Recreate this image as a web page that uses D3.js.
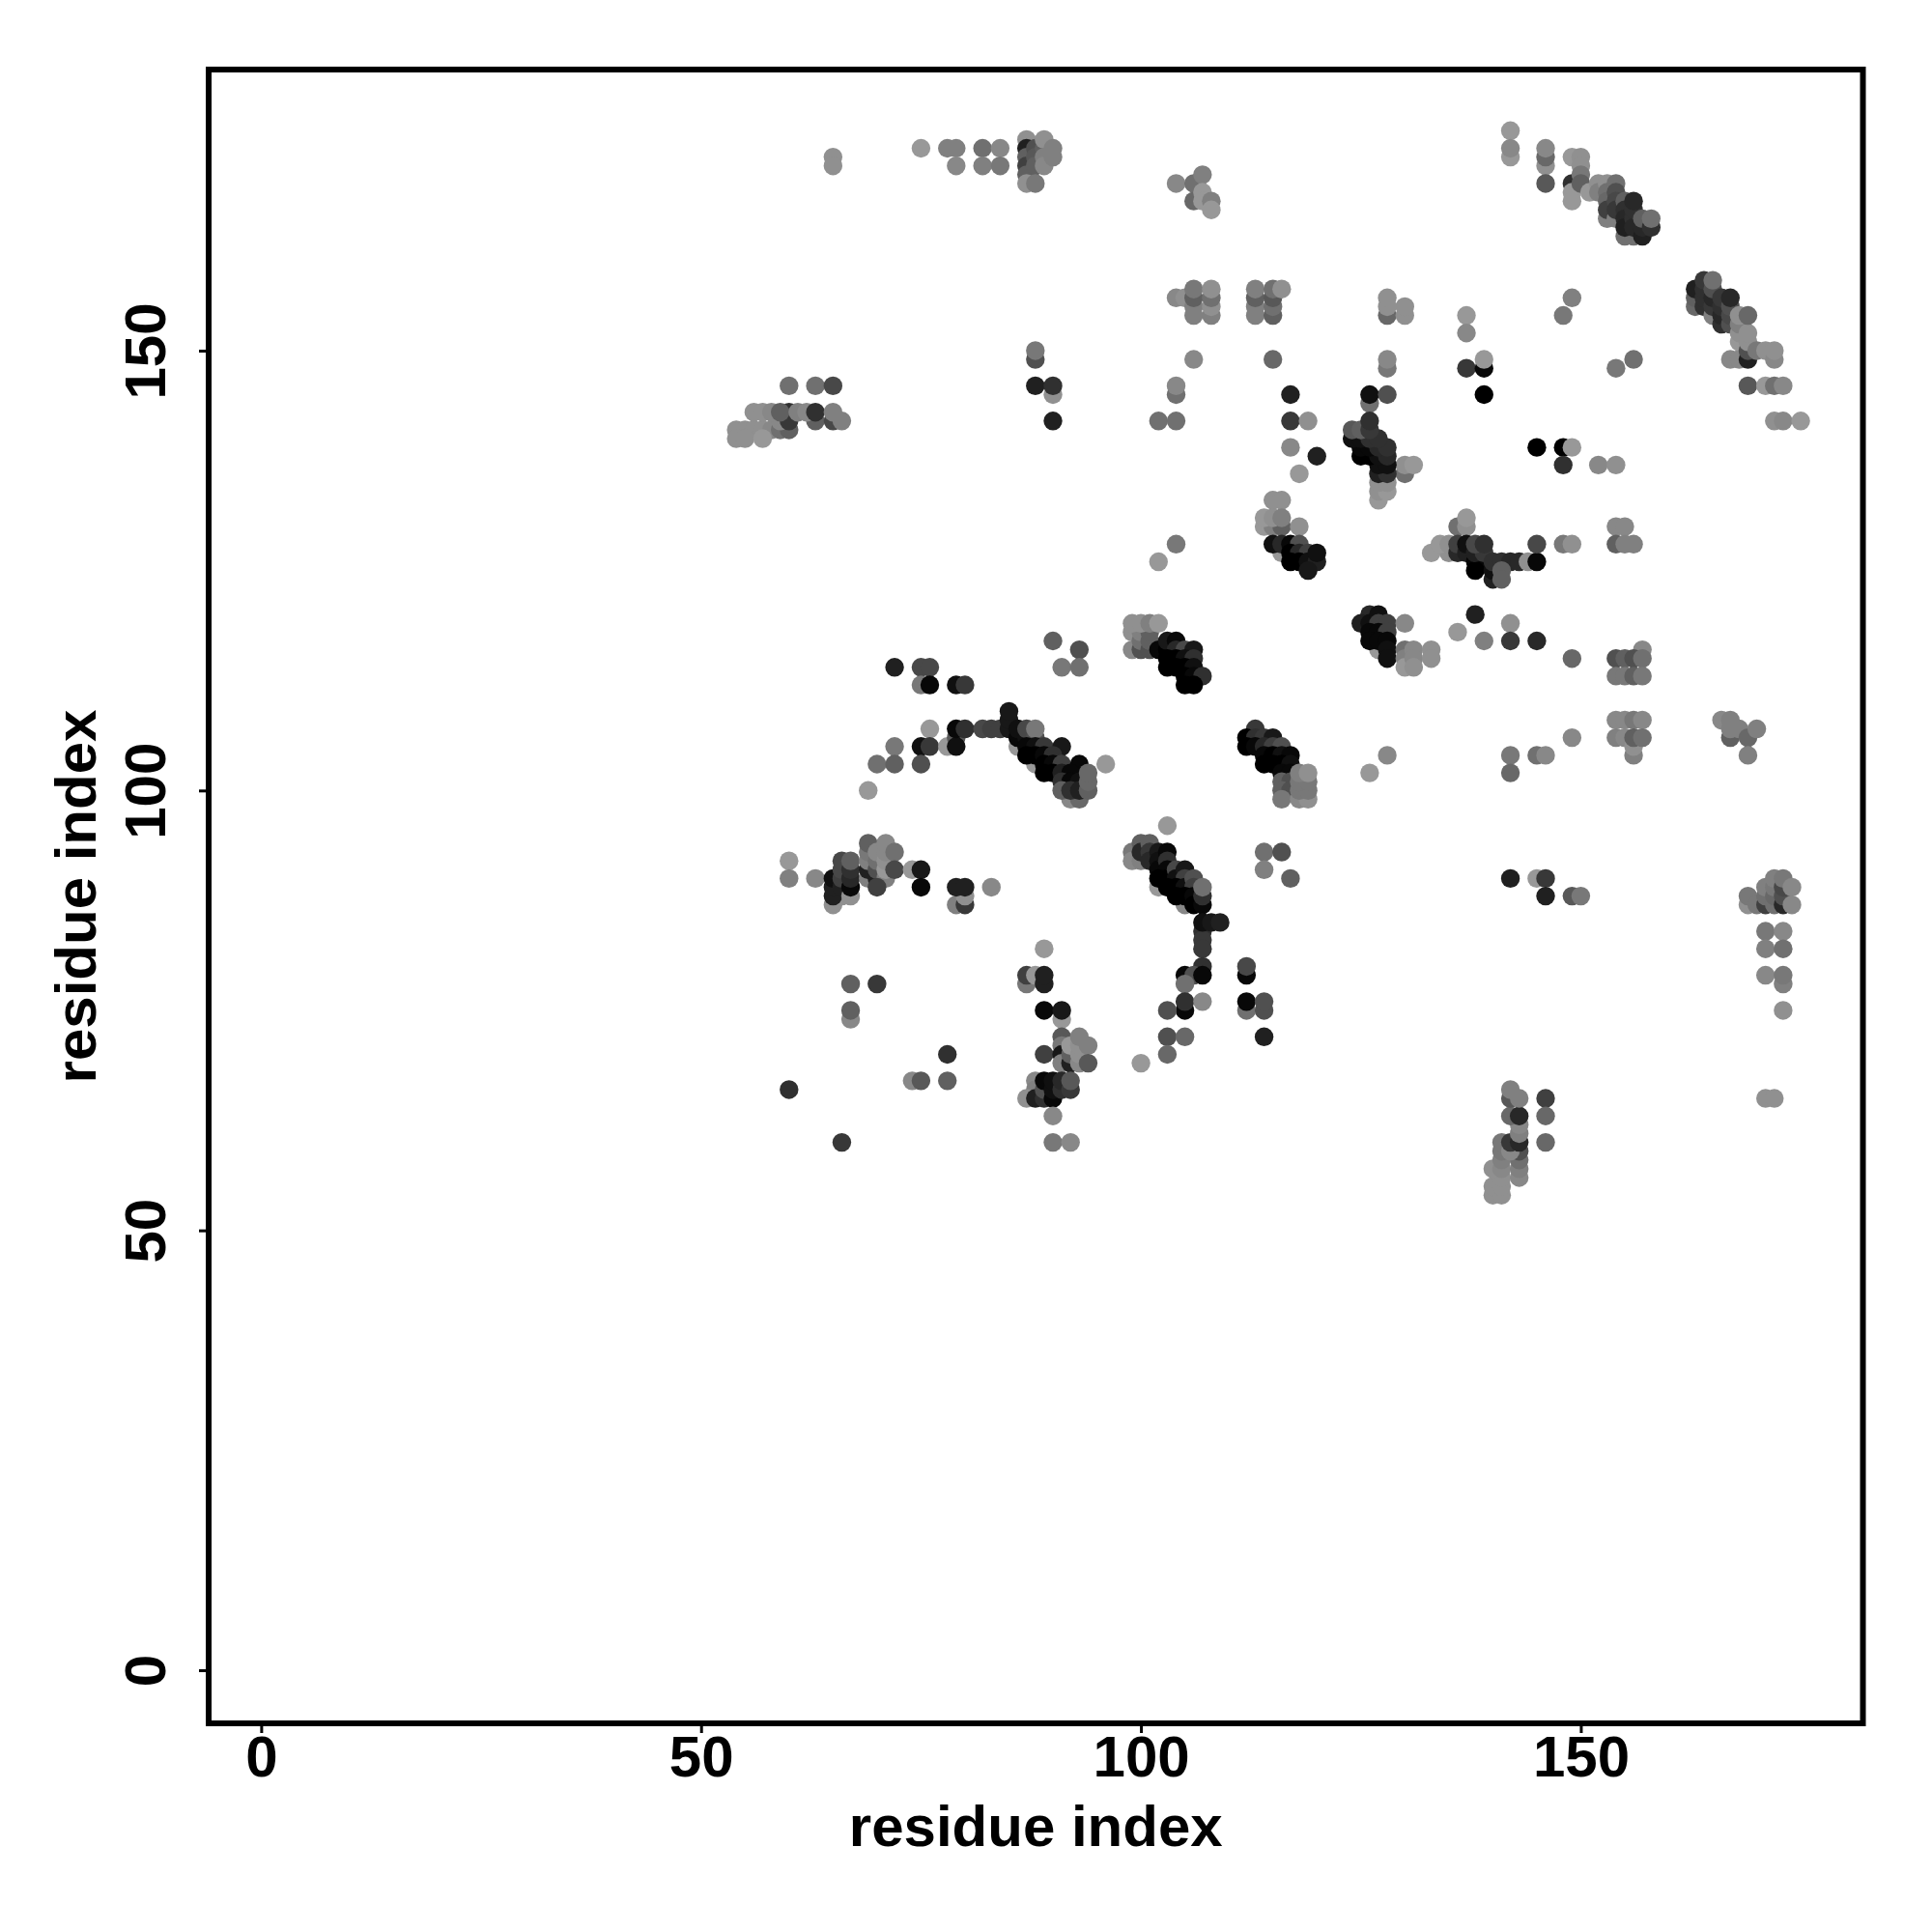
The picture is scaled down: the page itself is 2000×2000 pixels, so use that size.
<!DOCTYPE html>
<html><head><meta charset="utf-8">
<script src="https://cdn.jsdelivr.net/npm/d3@7"></script>
<style>html,body{margin:0;background:#fff}svg{display:block}</style></head>
<body><svg id="c" width="2000" height="2000"></svg>
<script>
// each contact: [residue i, residue j, score 0..19]
const topLeftContacts = [[65,172,1],[65,171,1],[75,173,0],[78,173,3],[79,173,3],[79,171,2],[82,173,5],[82,171,3],[84,173,2],[84,171,4],
[87,174,1],[87,173,15],[87,172,7],[87,171,11],[87,170,7],[87,169,1],[88,173,9],[88,172,8],[88,171,7],[88,169,4],[89,173,7],[89,174,1],[89,172,3],[89,171,2],[90,173,3],[90,172,3]];
const helix54Contacts = [[60,146,5],[63,146,5],[65,146,10],[54,141,1],[55,141,1],[56,141,1],[57,141,1],[58,141,2],[59,141,5],[60,141,7],[54,140,1],[55,140,1],[57,140,0],
[59,142,2],[60,143,13],[60,142,12],[63,142,7],[65,142,10],[56,143,1],[57,143,1],[58,143,2],[59,143,7],[61,143,3],[62,143,2],[63,143,13],[65,143,3],[66,142,3]];
const midTopContacts = [[88,149,9],[88,150,4],[88,146,15],[90,145,1],[90,146,13],[90,142,15],[102,142,5],[104,142,5],[104,145,5],[104,146,2],
[104,169,2],[106,169,5],[107,170,3],[106,167,6],[107,168,0],[107,167,0],[108,167,3],[108,166,0],
[104,156,2],[105,156,1],[106,154,3],[106,155,3],[106,156,7],[106,157,4],[108,154,3],[108,155,1],[108,156,5],[108,157,1],
[113,154,3],[113,155,3],[113,156,7],[113,157,3],[115,154,7],[115,155,5],[115,156,8],[115,157,5],[116,157,1],
[128,154,6],[128,155,1],[128,156,1],[130,154,1],[130,155,1],[137,154,0],[137,152,2],[149,156,3],[148,154,4],
[106,149,2],[115,149,6],[128,148,4],[128,149,2],[137,148,12],[139,148,18],[139,149,0],[139,145,19],[156,149,5],[154,148,4]];
const block117Contacts = [[117,145,15],[117,142,12],[119,142,1],[117,139,2],[120,138,15],[118,136,0],
[126,144,5],[126,145,17],[128,145,9],[127,133,0],[127,134,1],[128,134,0],[127,135,1],[128,135,1],[130,136,5],[127,136,15],[128,136,13],[130,137,1],[131,137,0],
[127,137,17],[128,137,17],[125,138,19],[126,138,19],[127,138,17],[128,138,14],[125,139,18],[126,139,18],[127,139,14],[128,139,13],[124,140,17],[125,140,17],[126,140,13],[127,140,13],[124,141,8],[125,141,7],[126,141,12],[126,142,13]];
const upperRightContacts = [[145,139,19],[148,139,19],[149,139,0],[148,137,13],[152,137,2],[154,137,1]];
const diagTopContacts = [[142,175,0],[142,172,0],[142,173,2],[146,171,1],[146,172,6],[146,173,2],[146,169,8],[149,172,0],[149,169,13],[149,168,0],[149,167,0],
[150,172,1],[150,171,1],[150,170,4],[150,169,7],[151,168,0],[152,169,1],[152,168,3],[153,169,1],[153,168,5],[153,167,6],[153,165,3],[153,166,11],[154,169,5],[154,168,9],[154,167,10],[154,165,3],[154,166,12],
[155,163,5],[156,163,5],[155,167,7],[155,166,13],[155,165,14],[155,164,15],[156,165,13],[156,164,14],[156,166,13],[156,167,14],[157,163,15],[157,164,14],[157,165,7],[158,164,13],[158,165,5]];
const diagRightContacts = [[163,155,6],[163,156,7],[163,157,15],[164,155,13],[164,156,13],[164,157,13],[164,158,12],[165,154,3],[165,155,12],[165,156,14],[165,157,9],[165,158,5],
[166,153,13],[166,154,14],[166,155,13],[166,156,12],[167,153,9],[167,154,10],[167,155,9],[167,156,14],[167,149,2],[168,149,2],[168,151,0],[168,152,1],[168,153,3],[168,154,1],
[169,149,15],[169,150,9],[169,151,1],[169,152,1],[169,154,6],[170,150,4],[171,150,1],[172,149,2],[172,150,1],[169,146,8],[171,146,0],[172,146,5],[173,146,2],[172,142,1],[173,142,2],[175,142,0]];
const block114Contacts = [[104,128,4],[102,126,0],[115,133,1],[116,133,1],[114,130,0],[115,130,3],[116,130,7],[114,131,0],[115,131,1],[116,131,3],[118,130,1],
[116,127,0],[115,128,17],[116,128,14],[117,128,18],[118,128,9],[117,127,19],[118,127,14],[119,127,11],[117,126,19],[118,126,19],[119,126,17],[120,126,15],[119,125,16],[120,127,17]];
const block136Contacts = [[136,130,5],[137,130,1],[137,131,0],[133,127,0],[135,127,1],[134,128,0],[135,128,1],[136,127,14],[136,128,11],[137,127,15],[137,128,17],[138,126,18],[139,126,18],[138,125,19],[140,124,15],[140,125,17],[138,127,15],[139,127,12],[138,128,10],[139,128,13],
[140,126,13],[141,126,13],[142,126,14],[143,126,14],[141,125,7],[141,124,7],[144,126,1],[145,126,18],[145,128,10],[148,128,4],[149,128,1],[154,130,2],[155,130,2],[154,128,7],[155,128,3],[156,128,3]];
const block125Contacts = [[127,116,0],[126,120,14],[125,119,15],[126,119,17],[127,120,17],[127,119,11],[128,119,11],[126,118,18],[127,118,18],[128,118,11],[126,117,18],[127,117,18],[128,117,18],[128,116,17],[128,115,17],
[130,119,2],[130,116,5],[130,115,3],[130,114,0],[131,116,2],[131,115,2],[131,114,1],[133,116,1],[133,115,1],[138,120,15],[142,119,1],[136,118,0],[139,117,3],[142,117,12],[145,117,14],[149,115,6]];
const block99Contacts = [[99,116,2],[99,118,1],[100,116,9],[100,117,5],[100,118,3],[101,116,9],[101,117,7],[101,118,7],[99,119,1],[100,119,1],[101,119,3],[102,119,0],
[102,116,18],[103,116,19],[103,117,16],[104,117,18],[104,116,14],[105,116,10],[106,116,16],[103,115,19],[104,115,19],[105,115,17],[106,115,13],[103,114,19],[104,114,19],[105,114,19],[106,114,17],[105,113,19],[106,113,18],[107,113,13],[105,112,19],[106,112,19]];
const block112Contacts = [[113,107,12],[112,106,19],[113,106,13],[114,106,12],[115,106,16],[112,105,19],[113,105,18],[114,105,14],[115,105,11],[116,105,9],[114,104,18],[115,104,19],[116,104,17],[117,104,18],[114,103,19],[115,103,19],[116,103,19],[117,103,17],[116,102,18],[117,102,18],
[116,101,7],[117,101,9],[116,100,7],[117,100,9],[116,99,4],[118,99,2],[119,99,1],[118,100,4],[119,100,4],[118,101,4],[119,101,4],[118,102,3],[119,102,1],[128,104,2],[126,102,0]];
const column154Contacts = [[142,104,4],[142,102,6],[145,104,5],[146,104,2],[149,106,2],[157,116,2],[154,115,9],[155,115,7],[156,115,9],[157,115,5],[154,113,4],[155,113,4],[156,113,7],[157,113,4],
[154,108,2],[155,108,2],[156,108,4],[157,108,2],[154,106,3],[155,106,2],[156,104,3],[156,105,1],[156,106,7],[157,106,5],
[166,108,2],[167,108,3],[167,106,7],[167,107,3],[168,107,3],[169,106,6],[170,107,3],[169,104,3]];
const arc72Contacts = [[72,114,15],[75,114,10],[76,114,10],[75,112,4],[76,112,18],[79,112,17],[80,112,12],[76,107,0],[72,105,4],[75,105,17],[76,105,12],[78,105,0],[79,106,8],[79,105,17],[79,107,18],[80,107,13],
[82,107,10],[83,107,11],[84,107,11],[85,107,16],[85,108,16],[85,109,16],[70,103,5],[72,103,7],[75,103,9],[69,100,0],[90,117,7],[93,116,9],[91,114,4],[93,114,5]];
const arc86Contacts = [[86,105,0],[88,103,0],[86,106,18],[86,107,17],[87,106,17],[87,107,10],[88,106,9],[88,107,4],[87,105,18],[88,105,17],[89,105,12],[91,105,16],[87,104,19],[88,104,19],[89,104,18],[90,104,13],[89,103,19],[90,103,18],[91,103,11],[93,103,18],[96,103,0],
[89,102,19],[90,102,19],[91,102,15],[92,102,18],[91,101,13],[92,101,18],[93,101,17],[92,99,2],[93,99,6],[91,100,7],[92,100,13],[93,100,15],[94,100,7],[94,101,6],[94,102,6]];
const block65Contacts = [[60,92,0],[60,90,3],[63,90,2],[65,87,1],[66,88,1],[65,88,15],[65,89,15],[65,90,17],[66,89,15],[66,90,11],[66,91,10],[66,92,10],[67,88,1],[67,89,18],[67,90,14],[67,91,13],[67,92,7],
[69,90,3],[69,91,15],[69,92,3],[69,93,4],[69,94,7],[70,90,15],[70,91,9],[70,92,5],[70,93,2],[71,90,3],[71,91,0],[71,92,1],[71,93,2],[71,94,2],[72,93,5],[72,91,10],[70,89,11],
[74,91,0],[75,91,16],[75,89,18],[79,87,3],[80,87,12],[80,88,1],[79,89,15],[80,89,15],[83,89,2]];
const arc99Contacts = [[102,89,0],[105,87,2],[99,93,4],[99,92,2],[100,92,3],[100,94,7],[100,93,14],[101,94,7],[101,93,12],[101,92,14],[102,93,16],[102,92,17],[102,91,18],[103,96,0],[103,93,18],[103,92,13],[103,91,18],
[102,90,19],[103,90,19],[104,91,10],[104,90,17],[105,91,16],[105,90,11],[103,89,19],[104,89,19],[105,89,17],[106,90,9],[106,89,11],[104,88,19],[105,88,19],[106,88,18],[106,87,19],[107,87,18],[107,88,13],[107,89,5],
[107,84,13],[107,83,12],[107,82,12],[107,80,13],[105,79,18],[106,79,9],[107,79,18],[105,78,5],[107,85,17],[108,85,16],[109,85,15],[105,75,18],[105,76,13],[103,75,9],[107,76,2],[103,72,9],[105,72,6],[103,70,6],[100,69,0]];
const block112LowContacts = [[112,79,18],[112,80,10],[112,75,5],[112,76,18],[114,75,9],[114,76,9],[114,72,15],[114,93,5],[116,93,9],[114,91,3],[117,90,7]];
const rightLowContacts = [[142,90,15],[145,90,0],[146,90,12],[146,88,15],[149,88,8],[150,88,4],
[169,87,1],[169,88,4],[170,87,4],[171,87,11],[171,88,5],[171,89,3],[172,87,5],[172,88,6],[172,89,4],[172,90,3],[173,87,14],[173,88,9],[173,89,10],[173,90,4],[174,89,2],[174,87,2],
[171,84,4],[173,84,2],[171,82,3],[173,82,5],[171,79,2],[173,78,3],[173,79,4],[173,75,1],[171,65,1],[172,65,1]];
const lowLeftContacts = [[67,78,7],[70,78,12],[67,74,2],[67,75,7],[78,70,13],[74,67,2],[75,67,8],[78,67,7],[60,66,13],[66,60,12]];
const centerLowContacts = [[89,82,0],[87,78,4],[87,79,11],[88,79,0],[89,78,15],[89,79,15],[91,74,0],[89,75,18],[91,75,16],[91,72,8],[91,71,4],[89,70,11],[91,70,16],[91,69,3],[92,69,15],[92,70,7],[92,71,0],[93,69,2],[93,70,1],[93,71,1],[93,72,3],[94,71,3],[94,69,8],
[88,67,2],[88,66,3],[87,65,1],[88,65,15],[89,65,13],[89,66,9],[90,65,18],[89,67,18],[90,66,17],[90,67,17],[91,66,13],[91,67,14],[92,66,12],[92,67,8],[90,63,2],[90,60,4],[92,60,2]];
const bottomRightContacts = [[140,54,1],[141,54,1],[140,55,1],[141,55,1],[141,56,1],[140,57,1],[141,57,2],[141,58,3],[141,59,4],[141,60,4],[143,56,2],[143,57,3],[143,58,5],[143,59,9],[142,59,2],[142,60,12],[143,60,14],[143,61,3],[143,62,2],[142,63,6],[143,63,14],[142,65,8],[142,66,3],[143,65,3],[146,65,11],[146,63,6],[146,60,6]];

const residueTicks = [0, 50, 100, 150];
const axisTitle = "residue index";

const contacts = [topLeftContacts, helix54Contacts, midTopContacts, block117Contacts, upperRightContacts, diagTopContacts, diagRightContacts, block114Contacts, block136Contacts, block125Contacts, block99Contacts, block112Contacts, column154Contacts, arc72Contacts, arc86Contacts, block65Contacts, arc99Contacts, block112LowContacts, rightLowContacts, lowLeftContacts, centerLowContacts, bottomRightContacts].flat();

const left = 216, right = 1928.5, top_ = 72, bottom = 1784;
const x = d3.scaleLinear().domain([-5.97, 182.07]).range([left, right]);
const y = d3.scaleLinear().domain([-6.04, 181.95]).range([bottom, top_]);
const shade = d3.scaleLinear().domain([0, 19]).range(["#989898", "#000000"]);
const font = "'Liberation Sans', Arial, sans-serif";

const svg = d3.select("#c");
svg.append("rect").attr("width", 2000).attr("height", 2000).attr("fill", "#fff");

svg.append("g").selectAll("circle").data(contacts).join("circle")
  .attr("cx", d => x(d[0])).attr("cy", d => y(d[1])).attr("r", 9.7)
  .attr("fill", d => shade(d[2]));

const ax = svg.append("g").attr("transform", `translate(0,${bottom})`)
  .call(d3.axisBottom(x).tickValues(residueTicks).tickSize(10).tickSizeOuter(0).tickFormat(d3.format("d")));
ax.select(".domain").remove();
ax.selectAll("line").attr("stroke", "#000").attr("stroke-width", 3);
ax.selectAll("text").attr("y", 55).attr("dy", 0).attr("font-family", font).attr("font-weight", "bold").attr("font-size", 60).attr("fill", "#000");

const ay = svg.append("g").attr("transform", `translate(${left},0)`)
  .call(d3.axisLeft(y).tickValues(residueTicks).tickSize(10).tickSizeOuter(0).tickFormat(d3.format("d")));
ay.select(".domain").remove();
ay.selectAll("line").attr("stroke", "#000").attr("stroke-width", 3);
ay.selectAll("text").attr("x", 0).attr("y", 0).attr("dy", 0)
  .attr("transform", "translate(-45,0) rotate(-90)")
  .attr("text-anchor", "middle").attr("font-family", font).attr("font-weight", "bold").attr("font-size", 60).attr("fill", "#000");

svg.append("rect").attr("x", left).attr("y", top_).attr("width", right - left).attr("height", bottom - top_)
  .attr("fill", "none").attr("stroke", "#000").attr("stroke-width", 6);

svg.append("text").attr("x", (left + right) / 2).attr("y", 1911).attr("text-anchor", "middle")
  .attr("font-family", font).attr("font-weight", "bold").attr("font-size", 60).text(axisTitle);
svg.append("text").attr("transform", `translate(99,${(top_ + bottom) / 2}) rotate(-90)`).attr("text-anchor", "middle")
  .attr("font-family", font).attr("font-weight", "bold").attr("font-size", 60).text(axisTitle);
</script></body></html>
